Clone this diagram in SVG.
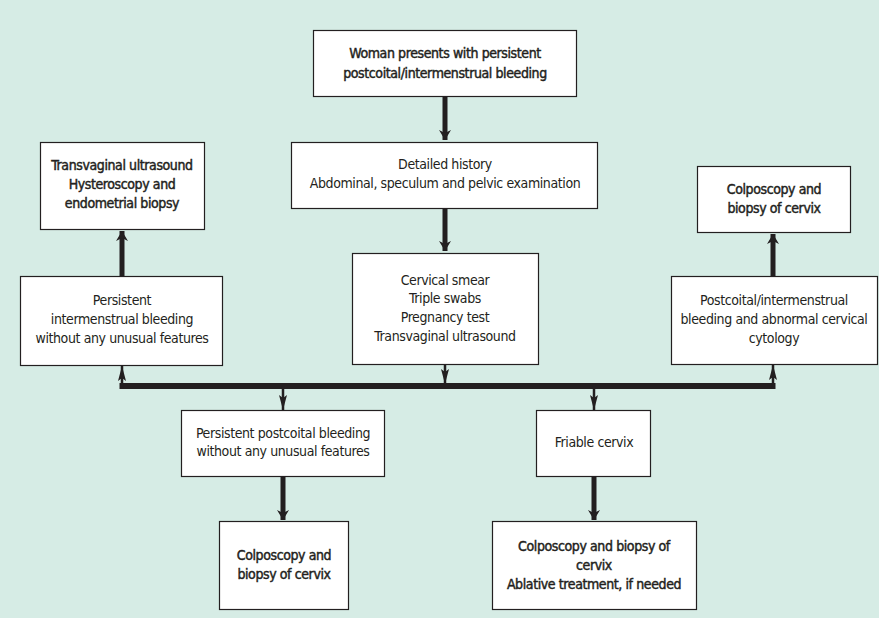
<svg xmlns="http://www.w3.org/2000/svg" width="879" height="618" viewBox="0 0 879 618">
<style>
.bg{fill:#d6ece5}
.box{fill:#ffffff;stroke:#231f20;stroke-width:1.2}
text{font-family:"Liberation Sans Narrow","DejaVu Sans Condensed","Liberation Sans",sans-serif;font-size:14px;letter-spacing:-0.4px;fill:#231f20;text-anchor:middle}
.b{stroke:#231f20;stroke-width:0.45px}
.thick{stroke:#231f20;stroke-width:5;fill:none}
.bus{stroke:#231f20;stroke-width:6;fill:none}
.thin{stroke:#231f20;stroke-width:2.5;fill:none}
</style>
<defs>
<marker id="ah" markerWidth="10" markerHeight="14" refX="10" refY="7" orient="auto" markerUnits="userSpaceOnUse">
<path d="M0,1 L10,7 L0,13 L3,7 Z" fill="#231f20"/>
</marker>
<marker id="as" markerWidth="15" markerHeight="10" refX="15" refY="5" orient="auto" markerUnits="userSpaceOnUse">
<path d="M0,1 L15,5 L0,9 L3,5 Z" fill="#231f20"/>
</marker>
</defs>
<rect class="bg" x="0" y="0" width="879" height="618"/>
<g id="connectors">
<line class="thick" x1="445" y1="96" x2="445" y2="140" marker-end="url(#ah)"/>
<line class="thick" x1="445" y1="208" x2="445" y2="251" marker-end="url(#ah)"/>
<line class="thin" x1="445" y1="364" x2="445" y2="384" marker-end="url(#as)"/>
<line class="bus" x1="119.5" y1="386" x2="775.5" y2="386"/>
<line class="thin" x1="122" y1="389" x2="122" y2="366" marker-end="url(#as)"/>
<line class="thin" x1="773" y1="389" x2="773" y2="365" marker-end="url(#as)"/>
<line class="thin" x1="283" y1="386" x2="283" y2="410" marker-end="url(#as)"/>
<line class="thin" x1="594" y1="386" x2="594" y2="410" marker-end="url(#as)"/>
<line class="thick" x1="122" y1="276" x2="122" y2="231" marker-end="url(#ah)"/>
<line class="thick" x1="773" y1="276" x2="773" y2="234" marker-end="url(#ah)"/>
<line class="thick" x1="283" y1="476" x2="283" y2="520" marker-end="url(#ah)"/>
<line class="thick" x1="594" y1="476" x2="594" y2="520" marker-end="url(#ah)"/>
</g>
<g id="n-start">
<rect class="box" x="313.5" y="30.5" width="263" height="66"/>
<text class="b" x="445" y="58">Woman presents with persistent</text>
<text class="b" x="445" y="78">postcoital/intermenstrual bleeding</text>
</g>
<g id="n-history">
<rect class="box" x="291.5" y="142.5" width="306" height="66"/>
<text x="445" y="169">Detailed history</text>
<text x="445" y="188">Abdominal, speculum and pelvic examination</text>
</g>
<g id="n-tests">
<rect class="box" x="352.5" y="253.5" width="186" height="111"/>
<text x="445" y="285">Cervical smear</text>
<text x="445" y="303">Triple swabs</text>
<text x="445" y="322">Pregnancy test</text>
<text x="445" y="341">Transvaginal ultrasound</text>
</g>
<g id="n-tvus">
<rect class="box" x="40.5" y="142.5" width="164" height="87"/>
<text class="b" x="122" y="170">Transvaginal ultrasound</text>
<text class="b" x="122" y="189">Hysteroscopy and</text>
<text class="b" x="122" y="208">endometrial biopsy</text>
</g>
<g id="n-imb">
<rect class="box" x="20.5" y="276.5" width="202" height="89"/>
<text x="122" y="305">Persistent</text>
<text x="122" y="324">intermenstrual bleeding</text>
<text x="122" y="343">without any unusual features</text>
</g>
<g id="n-colpo-r">
<rect class="box" x="697.5" y="166.5" width="153" height="66"/>
<text class="b" x="774" y="194">Colposcopy and</text>
<text class="b" x="774" y="213">biopsy of cervix</text>
</g>
<g id="n-abn">
<rect class="box" x="671.5" y="276.5" width="206" height="88"/>
<text x="774" y="305">Postcoital/intermenstrual</text>
<text x="774" y="324">bleeding and abnormal cervical</text>
<text x="774" y="343">cytology</text>
</g>
<g id="n-pcb">
<rect class="box" x="181.5" y="410.5" width="203" height="66"/>
<text x="283" y="438">Persistent postcoital bleeding</text>
<text x="283" y="456">without any unusual features</text>
</g>
<g id="n-friable">
<rect class="box" x="536.5" y="410.5" width="114" height="66"/>
<text x="594" y="447">Friable cervix</text>
</g>
<g id="n-colpo-bl">
<rect class="box" x="219.5" y="521.5" width="129" height="88"/>
<text class="b" x="284" y="560">Colposcopy and</text>
<text class="b" x="284" y="579">biopsy of cervix</text>
</g>
<g id="n-colpo-br">
<rect class="box" x="492.5" y="521.5" width="204" height="88"/>
<text class="b" x="594" y="551">Colposcopy and biopsy of</text>
<text class="b" x="594" y="570">cervix</text>
<text class="b" x="594" y="589">Ablative treatment, if needed</text>
</g>
</svg>
